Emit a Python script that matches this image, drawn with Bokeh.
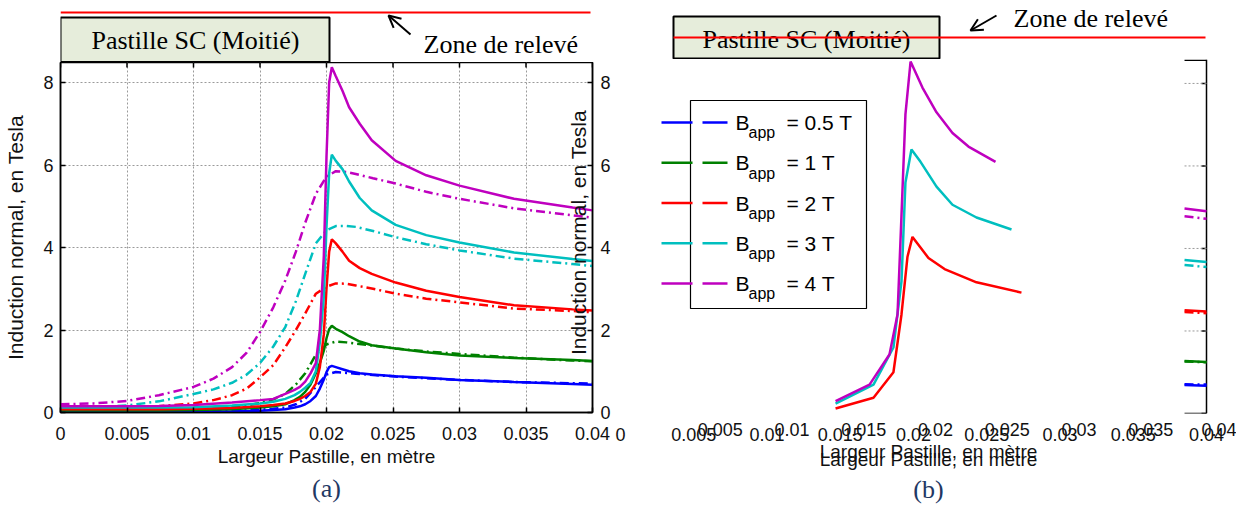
from math import pi
from bokeh.plotting import figure
from bokeh.layouts import row, column
from bokeh.models import (Range1d, FixedTicker, LinearAxis, Arrow, OpenHead, Title)
from bokeh.core.properties import value
from bokeh.embed import file_html
from bokeh.resources import INLINE

# ------------------------------------------------------------------ data
B_APP = [0.5, 1, 2, 3, 4]
SERIES_COLORS = ["#0000FF", "#008000", "#FF0000", "#00BFBF", "#BF00BF"]

X_TICKS = [0, 0.005, 0.01, 0.015, 0.02, 0.025, 0.03, 0.035, 0.04]
X_TICK_LABELS = ["0", "0.005", "0.01", "0.015", "0.02", "0.025", "0.03", "0.035", "0.04"]
Y_TICKS = [0, 2, 4, 6, 8]
Y_TICK_LABELS = ["0", "2", "4", "6", "8"]

X_LABEL = "Largeur Pastille, en mètre"
Y_LABEL = "Induction normal, en Tesla"

# panel (a) - measured (solid)
X_MEAS = [0.0, 0.005, 0.0074, 0.010, 0.0129, 0.015, 0.016, 0.0169, 0.0176, 0.018,
          0.0184, 0.0188, 0.0192, 0.0195, 0.0198, 0.0200, 0.0202, 0.0204, 0.0207, 0.0212,
          0.0217, 0.0225, 0.0234, 0.0252, 0.0275, 0.0300, 0.0341, 0.0385, 0.0400]
MEAS_05 = [0.02, 0.02, 0.02, 0.02, 0.03, 0.04, 0.06, 0.08, 0.12, 0.15,
           0.2, 0.28, 0.4, 0.58, 0.8, 0.98, 1.1, 1.13, 1.1, 1.05,
           1.0, 0.95, 0.92, 0.88, 0.84, 0.79, 0.74, 0.69, 0.67]
MEAS_1 = [0.05, 0.05, 0.05, 0.06, 0.08, 0.12, 0.15, 0.2, 0.3, 0.38,
          0.5, 0.68, 0.95, 1.2, 1.5, 1.8, 2.02, 2.1, 2.03, 1.95,
          1.85, 1.72, 1.63, 1.55, 1.46, 1.38, 1.32, 1.27, 1.25]
MEAS_2 = [0.08, 0.08, 0.08, 0.09, 0.11, 0.15, 0.18, 0.22, 0.28, 0.33,
          0.4, 0.5, 0.7, 1.1, 1.9, 3.0, 3.9, 4.2, 4.1, 3.9,
          3.68, 3.5, 3.36, 3.15, 2.95, 2.8, 2.6, 2.5, 2.47]
MEAS_3 = [0.12, 0.12, 0.12, 0.13, 0.17, 0.22, 0.26, 0.33, 0.42, 0.5,
          0.6, 0.72, 1.0, 1.7, 2.8, 4.5, 5.8, 6.25, 6.1, 5.9,
          5.6, 5.2, 4.9, 4.55, 4.3, 4.12, 3.88, 3.72, 3.67]
MEAS_4 = [0.15, 0.15, 0.16, 0.18, 0.24, 0.30, 0.33, 0.45, 0.55, 0.62,
          0.75, 0.95, 1.2, 2.0, 3.8, 6.2, 8.0, 8.37, 8.15, 7.8,
          7.4, 7.0, 6.6, 6.1, 5.75, 5.5, 5.18, 4.97, 4.9]

# panel (a) - simulated (dash-dot)
X_SIM = [0.0, 0.0025, 0.005, 0.0074, 0.010, 0.0115, 0.0129, 0.014, 0.015, 0.016,
         0.0169, 0.0177, 0.0184, 0.0192, 0.0200, 0.0207, 0.0215, 0.0222, 0.0235, 0.0252,
         0.0275, 0.0300, 0.0341, 0.0385, 0.0400]
SIM_05 = [0.02, 0.02, 0.02, 0.02, 0.03, 0.03, 0.04, 0.05, 0.07, 0.09,
          0.12, 0.2, 0.33, 0.62, 0.92, 0.98, 0.96, 0.94, 0.91, 0.87,
          0.83, 0.79, 0.74, 0.71, 0.7]
SIM_1 = [0.05, 0.05, 0.05, 0.06, 0.08, 0.1, 0.13, 0.17, 0.23, 0.32,
         0.45, 0.68, 0.95, 1.4, 1.65, 1.72, 1.7, 1.67, 1.62, 1.55,
         1.48, 1.42, 1.33, 1.26, 1.24]
SIM_2 = [0.1, 0.1, 0.11, 0.15, 0.22, 0.3, 0.42, 0.58, 0.85, 1.15,
         1.58, 2.0, 2.4, 2.88, 3.05, 3.13, 3.12, 3.08, 3.0, 2.88,
         2.76, 2.67, 2.52, 2.46, 2.43]
SIM_3 = [0.12, 0.13, 0.17, 0.27, 0.45, 0.56, 0.72, 0.92, 1.2, 1.6,
         2.07, 2.7, 3.36, 4.1, 4.42, 4.52, 4.52, 4.5, 4.4, 4.25,
         4.08, 3.93, 3.73, 3.6, 3.55]
SIM_4 = [0.2, 0.22, 0.28, 0.42, 0.62, 0.82, 1.1, 1.45, 1.95, 2.55,
         3.2, 3.9, 4.6, 5.3, 5.72, 5.85, 5.83, 5.78, 5.68, 5.55,
         5.35, 5.18, 4.95, 4.78, 4.72]

# panel (b) - measured curves visible in the middle
XB_2 = [0.01468, 0.01727, 0.01863, 0.01918, 0.01959, 0.01993, 0.02102, 0.02212, 0.02430, 0.02737]
YB_2 = [0.12, 0.38, 1.0, 2.4, 3.8, 4.28, 3.77, 3.5, 3.18, 2.93]
XB_3 = [0.01468, 0.01727, 0.01863, 0.01918, 0.01945, 0.01986, 0.02048, 0.02157, 0.02266, 0.02430, 0.02669]
YB_3 = [0.24, 0.7, 1.6, 3.2, 5.6, 6.4, 6.1, 5.5, 5.06, 4.75, 4.46]
XB_4 = [0.01468, 0.01700, 0.01836, 0.01891, 0.01918, 0.01945, 0.01980, 0.02061, 0.02157, 0.02266, 0.02375, 0.02560]
YB_4 = [0.3, 0.7, 1.43, 2.4, 4.8, 7.25, 8.53, 7.9, 7.3, 6.8, 6.47, 6.1]
B_VISIBLE_FROM = 0.0385  # only the right strip of the second panel shows the full curves

MEAS = [MEAS_05, MEAS_1, MEAS_2, MEAS_3, MEAS_4]
SIM = [SIM_05, SIM_1, SIM_2, SIM_3, SIM_4]
B_CURVES = [(XB_2, YB_2, 2), (XB_3, YB_3, 3), (XB_4, YB_4, 4)]

# ------------------------------------------------------------------ layout / style
SANS = "Liberation Sans"
SERIF = "Liberation Serif"
NAVY = "#1F3864"
BOX_FILL = "#E6EDDB"
GRID_COLOR = "#9a9a9a"
DASHDOT = "9 4 2 4"
LW = 2.5

A_W = 613
B_W = 1236 - A_W
A_TOP_H, B_TOP_H = 62, 59
A_MAIN_H, B_MAIN_H = 511 - A_TOP_H, 511 - B_TOP_H
A_YMAX, B_YMAX = 8.485, 8.58
B_PX_PER_X = 586 / 0.04
B_XMAX = (1236 - 620) / B_PX_PER_X


# pixel helpers for annotation placement (image pixel -> data)
def a_x(px):
    return (px - 60) / (532 / 0.04)


def b_x(px):
    return (px - 620) / B_PX_PER_X


def b_y(py):
    return (413 - py) / (354 / B_YMAX)


def style_axis(axis, ticks, labels, standoff, show_labels=True):
    axis.ticker = FixedTicker(ticks=ticks)
    axis.major_label_overrides = {t: l for t, l in zip(ticks, labels)}
    axis.axis_line_color = "black"
    axis.axis_line_width = 1.5
    axis.major_tick_in = 5
    axis.major_tick_out = 0
    axis.major_tick_line_color = "black"
    axis.major_tick_line_width = 1.5
    axis.minor_tick_line_color = None
    axis.major_label_text_font = SANS
    axis.major_label_text_font_size = "18px"
    axis.major_label_text_color = "#111111" if show_labels else None
    axis.major_label_standoff = standoff
    axis.axis_label_text_font = SANS
    axis.axis_label_text_font_style = "normal"
    axis.axis_label_text_color = "#111111"
    axis.axis_label_text_font_size = "19px"


# ================================================================== panel (a)
pa = figure(width=A_W, height=A_MAIN_H, x_range=Range1d(0, 0.04), y_range=Range1d(0, A_YMAX),
            output_backend="svg", toolbar_location=None,
            min_border_left=60, min_border_right=21, min_border_top=0,
            min_border_bottom=A_MAIN_H - 350)
pa.outline_line_color = "black"
pa.outline_line_width = 1.5
xa = pa.xaxis[0]
ya = pa.yaxis[0]
ra = LinearAxis()
pa.add_layout(ra, "right")
style_axis(xa, X_TICKS, X_TICK_LABELS, 14)
style_axis(ya, Y_TICKS, Y_TICK_LABELS, 7)
style_axis(ra, Y_TICKS, Y_TICK_LABELS, 8)
xa.axis_label = X_LABEL
xa.axis_label_standoff = 3
ya.axis_label = Y_LABEL
ya.axis_label_text_font_size = "21px"
ya.axis_label_standoff = 13
pa.xgrid.ticker = FixedTicker(ticks=X_TICKS)
pa.ygrid.ticker = FixedTicker(ticks=Y_TICKS)
pa.grid.grid_line_color = GRID_COLOR
pa.grid.grid_line_dash = "2 2"
pa.grid.grid_line_width = 1
# inward ticks along the top edge
pa.segment(x0=X_TICKS, x1=X_TICKS, y0=[A_YMAX] * len(X_TICKS), y1=[A_YMAX - 0.12] * len(X_TICKS),
           line_color="black", line_width=1.5)

for vals, col in zip(SIM, SERIES_COLORS):
    pa.line(X_SIM, vals, line_color=col, line_width=LW, line_dash=DASHDOT)
for vals, col in zip(MEAS, SERIES_COLORS):
    pa.line(X_MEAS, vals, line_color=col, line_width=LW)

# the second panel's y label overlapping the right side of panel (a)
pa.text(x=[a_x(578)], y=[(412 - 232) / 41.25], text=[Y_LABEL], angle=pi / 2,
        text_align="center", text_baseline="middle", text_font=value(SANS),
        text_font_size="21px", text_color="#111111")
pa.add_layout(Title(text="(a)", align="center", text_font=SERIF, text_font_size="26px",
                    text_font_style="normal", text_color=NAVY, standoff=4), "below")

# header of panel (a)  (y range expressed in page pixels)
ta = figure(width=A_W, height=A_TOP_H, x_range=pa.x_range, y_range=Range1d(A_TOP_H, 0),
            output_backend="svg", toolbar_location=None, x_axis_location=None, y_axis_location=None,
            min_border_left=60, min_border_right=21, min_border_top=0, min_border_bottom=0)
ta.outline_line_color = None
ta.grid.visible = False
ta.quad(left=[a_x(60)], right=[a_x(329)], top=[17], bottom=[61.5], fill_color=BOX_FILL,
        line_color="black", line_width=2)
ta.text(x=[a_x(195)], y=[40], text=["Pastille SC (Moitié)"], text_align="center",
        text_baseline="middle", text_font=value(SERIF), text_font_size="26px", text_color="black")
ta.segment(x0=[a_x(60)], y0=[12], x1=[a_x(590)], y1=[12], line_color="#FF0000", line_width=2)
ta.add_layout(Arrow(end=OpenHead(size=12, line_width=2, line_color="black"),
                    x_start=a_x(410), y_start=34, x_end=a_x(388), y_end=15,
                    line_width=2, line_color="black"))
ta.text(x=[a_x(423)], y=[44], text=["Zone de relevé"], text_align="left",
        text_baseline="middle", text_font=value(SERIF), text_font_size="26px", text_color="black")

# ================================================================== panel (b)
pb = figure(width=B_W, height=B_MAIN_H, x_range=Range1d(0, B_XMAX), y_range=Range1d(0, B_YMAX),
            output_backend="svg", toolbar_location=None, x_axis_location=None, y_axis_location=None,
            min_border_left=7, min_border_right=0, min_border_top=0,
            min_border_bottom=B_MAIN_H - 354)
pb.outline_line_color = None
pb.grid.visible = False
# two superimposed x scales (the panel is an overlay of two pictures)
pb.extra_x_ranges = {"second": Range1d((620 - 648) * 0.04 / 574, (1236 - 648) * 0.04 / 574)}
xb2 = LinearAxis(x_range_name="second")
style_axis(xb2, X_TICKS[1:], X_TICK_LABELS[1:], 9)
xb2.axis_line_color = None
xb2.major_tick_line_color = None
xb2.axis_label = X_LABEL
xb2.axis_label_standoff = 2
pb.add_layout(xb2, "below")
xb = LinearAxis()
style_axis(xb, X_TICKS, X_TICK_LABELS, -37)
xb.axis_line_color = None
xb.major_tick_line_color = None
xb.axis_label = X_LABEL
xb.axis_label_standoff = 5
pb.add_layout(xb, "below")

# right frame edge of panel (b) with inward ticks
pb.segment(x0=[0.04], x1=[0.04], y0=[0], y1=[B_YMAX], line_color="black", line_width=1.5)
pb.segment(x0=[0.04] * len(Y_TICKS), x1=[0.04 - 5 / B_PX_PER_X] * len(Y_TICKS),
           y0=Y_TICKS, y1=Y_TICKS, line_color="black", line_width=1.5)

# visible strip at the right edge: frame stubs, grid stubs, curve ends
n_y = len(Y_TICKS)
pb.segment(x0=[B_VISIBLE_FROM] * (n_y - 1), x1=[0.04] * (n_y - 1), y0=Y_TICKS[1:], y1=Y_TICKS[1:],
           line_color=GRID_COLOR, line_dash="2 2", line_width=1)
pb.segment(x0=[B_VISIBLE_FROM] * 2, x1=[0.04] * 2, y0=[0.0, B_YMAX - 0.02], y1=[0.0, B_YMAX - 0.02],
           line_color="black", line_width=1.5)
for vals, col in zip(SIM, SERIES_COLORS):
    xs = [x for x in X_SIM if x >= B_VISIBLE_FROM]
    ys = [v for x, v in zip(X_SIM, vals) if x >= B_VISIBLE_FROM]
    pb.line(xs, ys, line_color=col, line_width=LW, line_dash=DASHDOT)
for vals, col in zip(MEAS, SERIES_COLORS):
    xs = [x for x in X_MEAS if x >= B_VISIBLE_FROM]
    ys = [v for x, v in zip(X_MEAS, vals) if x >= B_VISIBLE_FROM]
    pb.line(xs, ys, line_color=col, line_width=LW)

for xs, ys, b in B_CURVES:
    pb.line(xs, ys, line_color=SERIES_COLORS[B_APP.index(b)], line_width=LW)

# legend (drawn by hand to keep the line stubs sticking out of the box)
pb.quad(left=[b_x(690)], right=[b_x(866)], top=[b_y(100)], bottom=[b_y(308)],
        fill_color="white", line_color="black", line_width=1.2)
leg_y = [b_y(122 + 40.25 * i) for i in range(len(B_APP))]
pb.segment(x0=[b_x(661)] * 5, x1=[b_x(692)] * 5, y0=leg_y, y1=leg_y,
           line_color=SERIES_COLORS, line_width=LW)
pb.segment(x0=[b_x(702)] * 5, x1=[b_x(727)] * 5, y0=leg_y, y1=leg_y,
           line_color=SERIES_COLORS, line_width=LW)
pb.text(x=[b_x(735)] * 5, y=leg_y, text=["B"] * 5, text_align="left", text_baseline="middle",
        text_font=value(SANS), text_font_size="21px", text_color="black")
pb.text(x=[b_x(748)] * 5, y=[v - 0.25 for v in leg_y], text=["app"] * 5, text_align="left",
        text_baseline="middle", text_font=value(SANS), text_font_size="16px", text_color="black")
pb.text(x=[b_x(786)] * 5, y=leg_y, text=[f"= {v:g} T" for v in B_APP], text_align="left",
        text_baseline="middle", text_font=value(SANS), text_font_size="21px", text_color="black")

pb.add_layout(Title(text="(b)", align="center", text_font=SERIF, text_font_size="26px",
                    text_font_style="normal", text_color=NAVY, standoff=0), "below")

# header of panel (b)
tb = figure(width=B_W, height=B_TOP_H, x_range=pb.x_range, y_range=Range1d(B_TOP_H, 0),
            output_backend="svg", toolbar_location=None, x_axis_location=None, y_axis_location=None,
            min_border_left=7, min_border_right=0, min_border_top=0, min_border_bottom=0)
tb.outline_line_color = None
tb.grid.visible = False
tb.quad(left=[b_x(673)], right=[b_x(939)], top=[16], bottom=[58], fill_color=BOX_FILL,
        line_color="black", line_width=2)
tb.text(x=[b_x(806)], y=[39], text=["Pastille SC (Moitié)"], text_align="center",
        text_baseline="middle", text_font=value(SERIF), text_font_size="26px", text_color="black")
tb.segment(x0=[b_x(673)], y0=[37], x1=[b_x(1205)], y1=[37], line_color="#FF0000", line_width=2)
tb.add_layout(Arrow(end=OpenHead(size=12, line_width=2, line_color="black"),
                    x_start=b_x(996), y_start=15, x_end=b_x(970), y_end=30,
                    line_width=2, line_color="black"))
tb.text(x=[b_x(1013)], y=[18], text=["Zone de relevé"], text_align="left",
        text_baseline="middle", text_font=value(SERIF), text_font_size="26px", text_color="black")

layout = row(column(ta, pa, spacing=0), column(tb, pb, spacing=0), spacing=0)
open("out.html", "w").write(file_html(layout, INLINE))
